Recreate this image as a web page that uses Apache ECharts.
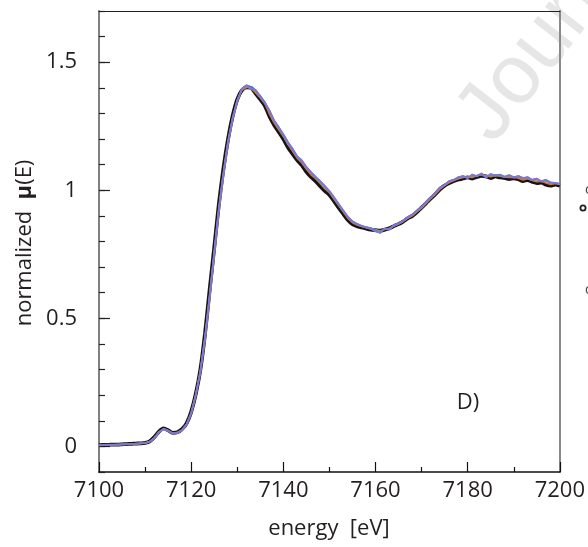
<!DOCTYPE html>
<html><head><meta charset="utf-8">
<script src="https://cdn.jsdelivr.net/npm/echarts@6/dist/echarts.min.js"></script>
<style>html,body{margin:0;padding:0;background:#fff}#c{width:588px;height:547px}</style>
</head><body><div id="c"></div>
<script>
const energy = [7100,7101,7102,7103,7104,7105,7106,7107,7108,7109,7110,
7111,7112,7113,7114,7115,7116,7117,7118,7119,7120,
7121,7122,7123,7124,7125,7126,7127,7128,7129,7130,
7131,7132,7133,7134,7135,7136,7137,7138,7139,7140,
7141,7142,7143,7144,7145,7146,7147,7148,7149,7150,
7151,7152,7153,7154,7155,7156,7157,7158,7159,7160,
7161,7162,7163,7164,7165,7166,7167,7168,7169,7170,
7171,7172,7173,7174,7175,7176,7177,7178,7179,7180,
7181,7182,7183,7184,7185,7186,7187,7188,7189,7190,
7191,7192,7193,7194,7195,7196,7197,7198,7199,7200];

const muBlack = [0.005,0.006,0.006,0.007,0.007,0.008,0.009,0.010,0.011,0.012,0.014,
0.020,0.036,0.058,0.070,0.063,0.053,0.055,0.067,0.090,0.135,
0.205,0.30,0.44,0.61,0.775,0.945,1.085,1.20,1.29,1.355,
1.39,1.402,1.40,1.378,1.355,1.33,1.288,1.255,1.228,1.2,
1.168,1.142,1.118,1.098,1.072,1.052,1.036,1.016,0.998,0.982,
0.958,0.932,0.908,0.884,0.868,0.86,0.855,0.85,0.846,0.844,
0.842,0.846,0.852,0.86,0.868,0.878,0.89,0.9,0.915,0.932,
0.95,0.968,0.985,1.004,1.018,1.028,1.036,1.042,1.046,1.05,
1.046,1.052,1.056,1.054,1.048,1.054,1.05,1.048,1.044,1.047,
1.043,1.036,1.04,1.033,1.028,1.03,1.022,1.018,1.022,1.018];

const muOrange = [0.005,0.006,0.006,0.007,0.007,0.008,0.009,0.010,0.011,0.012,0.014,
0.019,0.034,0.057,0.069,0.062,0.052,0.054,0.065,0.087,0.132,
0.205,0.30,0.43,0.595,0.765,0.935,1.075,1.195,1.285,1.352,
1.39,1.402,1.398,1.38,1.36,1.338,1.296,1.262,1.236,1.21,
1.178,1.152,1.125,1.106,1.082,1.06,1.045,1.026,1.006,0.99,
0.965,0.94,0.915,0.89,0.873,0.864,0.858,0.853,0.849,0.846,
0.842,0.847,0.852,0.86,0.868,0.878,0.89,0.9,0.915,0.93,
0.948,0.968,0.984,1.004,1.018,1.03,1.038,1.045,1.05,1.052,
1.05,1.056,1.06,1.057,1.053,1.058,1.055,1.052,1.05,1.051,
1.047,1.04,1.045,1.038,1.033,1.035,1.028,1.022,1.026,1.022];

const muGreen = [0.004,0.005,0.006,0.006,0.007,0.007,0.008,0.009,0.010,0.011,0.013,
0.018,0.033,0.056,0.068,0.061,0.051,0.053,0.064,0.086,0.13,
0.202,0.295,0.425,0.588,0.758,0.928,1.068,1.19,1.283,1.35,
1.392,1.408,1.40,1.385,1.37,1.345,1.305,1.268,1.24,1.214,
1.182,1.158,1.13,1.112,1.088,1.066,1.048,1.03,1.012,0.994,
0.968,0.942,0.918,0.893,0.876,0.866,0.86,0.856,0.85,0.847,
0.84,0.848,0.85,0.861,0.869,0.879,0.893,0.903,0.918,0.933,
0.952,0.97,0.988,1.008,1.02,1.033,1.04,1.048,1.052,1.05,
1.055,1.058,1.062,1.054,1.058,1.056,1.058,1.05,1.055,1.049,
1.052,1.045,1.047,1.04,1.04,1.036,1.035,1.027,1.027,1.024];

const muCyan = [0.004,0.005,0.005,0.006,0.006,0.007,0.008,0.009,0.010,0.011,0.013,
0.018,0.032,0.055,0.067,0.060,0.050,0.052,0.063,0.085,0.128,
0.198,0.29,0.42,0.582,0.752,0.922,1.062,1.186,1.28,1.35,
1.394,1.406,1.402,1.388,1.362,1.342,1.308,1.272,1.242,1.216,
1.18,1.162,1.128,1.114,1.086,1.068,1.05,1.032,1.01,0.996,
0.97,0.944,0.92,0.895,0.877,0.867,0.861,0.854,0.852,0.844,
0.838,0.849,0.849,0.863,0.87,0.88,0.894,0.904,0.92,0.934,
0.953,0.971,0.99,1.009,1.02,1.034,1.04,1.049,1.053,1.049,
1.058,1.056,1.063,1.052,1.06,1.057,1.059,1.051,1.056,1.05,
1.053,1.046,1.048,1.04,1.043,1.034,1.037,1.028,1.028,1.024];

const muBlue = [0.004,0.005,0.006,0.006,0.007,0.008,0.008,0.009,0.010,0.012,0.013,
0.018,0.032,0.055,0.068,0.061,0.051,0.053,0.063,0.085,0.128,
0.2,0.292,0.422,0.582,0.752,0.922,1.062,1.186,1.28,1.35,
1.396,1.41,1.404,1.392,1.368,1.344,1.312,1.274,1.248,1.22,
1.19,1.164,1.134,1.118,1.092,1.072,1.054,1.036,1.018,0.998,
0.974,0.948,0.922,0.898,0.88,0.87,0.862,0.857,0.853,0.845,
0.832,0.852,0.846,0.864,0.872,0.882,0.896,0.906,0.922,0.936,
0.956,0.974,0.992,1.012,1.022,1.037,1.042,1.052,1.056,1.047,
1.062,1.054,1.066,1.05,1.064,1.058,1.062,1.053,1.06,1.051,
1.056,1.047,1.052,1.041,1.046,1.035,1.041,1.031,1.029,1.026];

const muPurple = [0.004,0.005,0.006,0.006,0.007,0.008,0.008,0.009,0.010,0.012,0.013,
0.018,0.032,0.055,0.068,0.061,0.051,0.053,0.063,0.085,0.128,
0.200,0.29,0.42,0.58,0.75,0.92,1.06,1.185,1.28,1.35,
1.395,1.41,1.395,1.39,1.365,1.34,1.31,1.27,1.245,1.215,
1.185,1.16,1.13,1.115,1.09,1.07,1.05,1.035,1.015,0.995,
0.97,0.945,0.92,0.895,0.878,0.868,0.86,0.855,0.85,0.84,
0.835,0.85,0.848,0.862,0.87,0.88,0.895,0.905,0.92,0.935,
0.955,0.972,0.99,1.01,1.02,1.035,1.04,1.05,1.055,1.048,
1.06,1.055,1.065,1.05,1.062,1.058,1.06,1.052,1.058,1.05,
1.055,1.048,1.05,1.04,1.045,1.035,1.04,1.03,1.028,1.025];

const xTickValues = [7100,7120,7140,7160,7180,7200];
const yLabelValues = [0,0.5,1,1.5];

const FONT = 'Open Sans';
const TXT = '#231f20';
const pairs = arr => energy.map((e, i) => [e, arr[i]]);

const colored = [
  {data: muOrange, color: '#f26a21', width: 1.4},
  {data: muGreen,  color: '#5cb946', width: 1.2},
  {data: muCyan,   color: '#42c3d6', width: 1.3},
  {data: muBlue,   color: '#4a7fd4', width: 1.4},
  {data: muPurple, color: '#8474cc', width: 2}
];

const chart = echarts.init(document.getElementById('c'), null, {renderer: 'canvas'});
chart.setOption({
  animation: false,
  backgroundColor: '#ffffff',
  grid: {left: 99, right: 28, top: 11, bottom: 75, containLabel: false},
  xAxis: [
    {type: 'value', min: 7100, max: 7200, interval: 20, position: 'bottom',
     axisLine: {show: true, onZero: false, lineStyle: {color: '#111', width: 1.6}},
     axisTick: {show: true, inside: true, length: 10, lineStyle: {color: '#111', width: 1.2}},
     minorTick: {show: true, splitNumber: 2, length: 5, lineStyle: {color: '#111', width: 1.2}},
     axisLabel: {show: true, margin: 8, fontSize: 22, fontFamily: FONT, color: TXT,
                 formatter: v => String(v)},
     splitLine: {show: false}, minorSplitLine: {show: false}},
    {type: 'value', min: 7100, max: 7200, position: 'top',
     axisLine: {show: true, onZero: false, lineStyle: {color: '#222', width: 1.2}},
     axisTick: {show: false}, axisLabel: {show: false}, splitLine: {show: false}}
  ],
  yAxis: [
    {type: 'value', min: -0.1, max: 1.7, position: 'left',
     axisLine: {show: true, onZero: false, lineStyle: {color: '#808080', width: 2}},
     axisTick: {show: true, inside: true, length: 11, customValues: yLabelValues, lineStyle: {color: '#222', width: 1.2}},
     axisLabel: {show: true, customValues: yLabelValues, margin: 22, fontSize: 22, fontFamily: FONT, color: TXT,
                 formatter: v => String(v)},
     splitLine: {show: false}},
    {type: 'value', min: -0.1, max: 1.7, interval: 0.1, position: 'left',
     axisLine: {show: false},
     axisTick: {show: true, inside: true, length: 6, lineStyle: {color: '#222', width: 1.2}},
     axisLabel: {show: false}, splitLine: {show: false}},
    {type: 'value', min: -0.1, max: 1.7, position: 'right',
     axisLine: {show: true, onZero: false, lineStyle: {color: '#8a8a8a', width: 2}},
     axisTick: {show: false}, axisLabel: {show: false}, splitLine: {show: false}}
  ],
  series: [
    {type: 'line', name: 'ref', data: pairs(muBlack), showSymbol: false, smooth: 0.25,
     lineStyle: {color: '#151515', width: 3.8}, z: 2}
  ].concat(colored.map(c => ({
    type: 'line', data: pairs(c.data), showSymbol: false, smooth: false,
    lineStyle: {color: c.color, width: c.width}, z: 3
  }))),
  graphic: [
    {type: 'text', z: -10, silent: true, x: 508, y: 157, rotation: 52 * Math.PI / 180,
     style: {text: 'Journal Pre-proof', font: '84px "Liberation Sans"', fill: '#e6e6e6',
             textAlign: 'left', textVerticalAlign: 'bottom'}},
    {type: 'text', x: 25, y: 243, rotation: Math.PI / 2,
     style: {text: '{n|normalized  }{m|μ}{n|(E)}', textAlign: 'center', textVerticalAlign: 'middle',
             rich: {n: {fontSize: 22, fontFamily: FONT, fill: TXT},
                    m: {fontSize: 22, fontFamily: FONT, fontWeight: 'bold', fill: TXT}}}},
    {type: 'text', x: 329, y: 529,
     style: {text: 'energy  [eV]', font: '22px "Open Sans"', fill: TXT, textAlign: 'center', textVerticalAlign: 'middle'}},
    {type: 'text', x: 468, y: 403,
     style: {text: 'D)', font: '22px "Open Sans"', fill: TXT, textAlign: 'center', textVerticalAlign: 'middle'}},
    {type: 'circle', shape: {cx: 583, cy: 208, r: 2.6}, style: {fill: 'none', stroke: '#222', lineWidth: 1.8}},
    {type: 'text', x: 585, y: 190, style: {text: 'c', font: '14px "Open Sans"', fill: '#444', textAlign: 'left', textVerticalAlign: 'middle'}},
    {type: 'text', x: 585, y: 290, style: {text: 'c', font: '14px "Open Sans"', fill: '#444', textAlign: 'left', textVerticalAlign: 'middle'}}
  ]
});
</script>
</body></html>
